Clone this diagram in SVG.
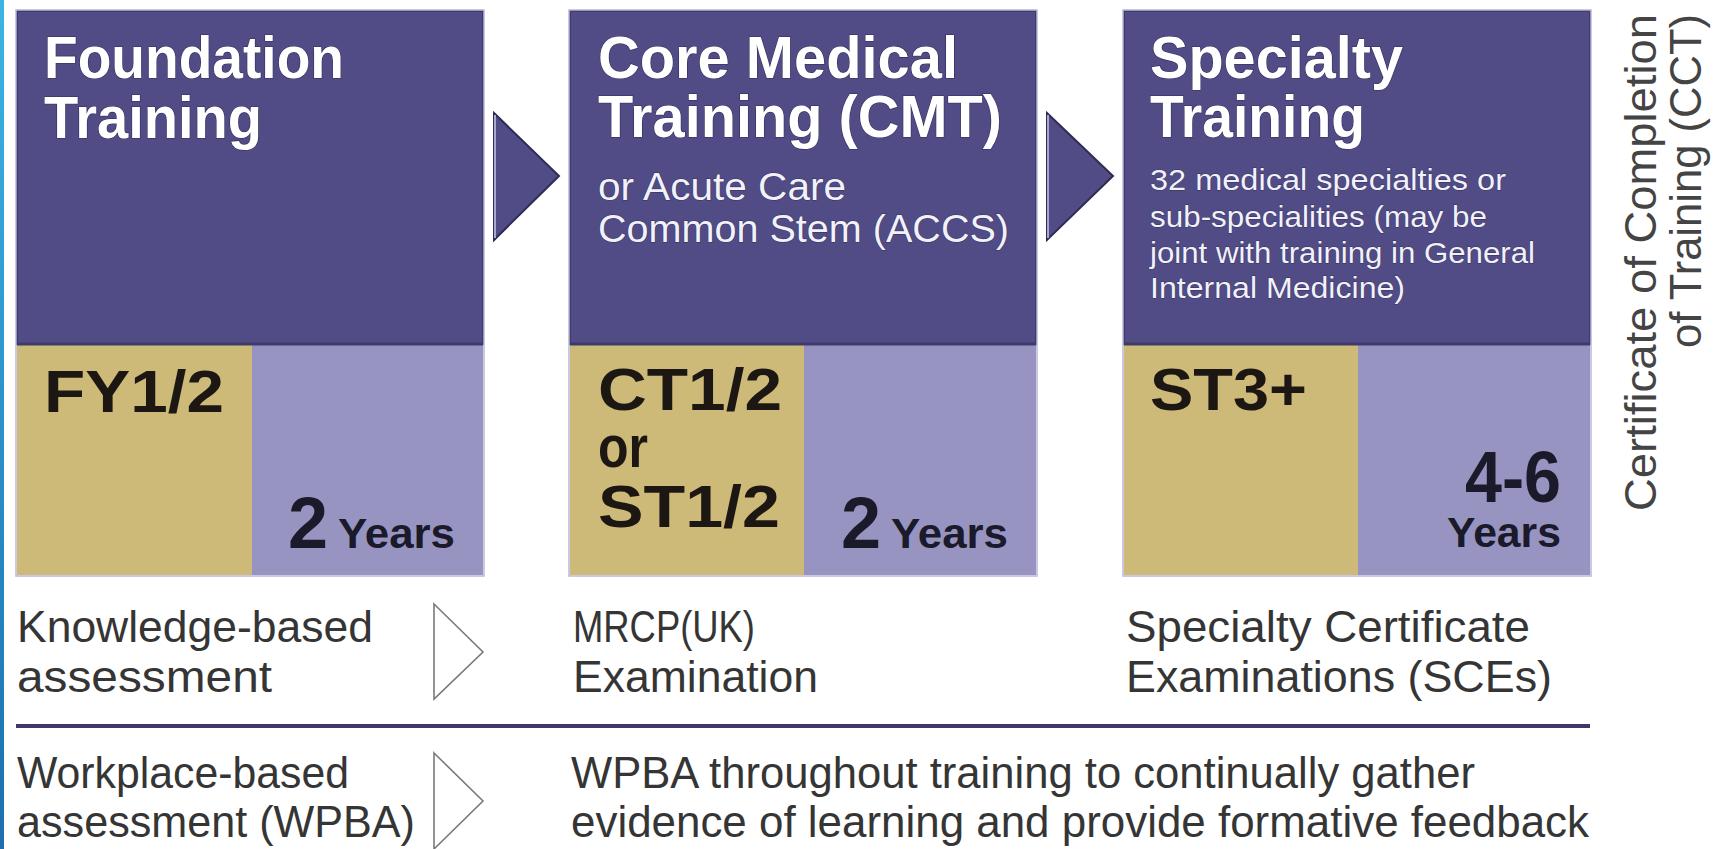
<svg xmlns="http://www.w3.org/2000/svg" width="1722" height="849" viewBox="0 0 1722 849">
  <defs>
    <linearGradient id="edge" x1="0" y1="0" x2="0" y2="1">
      <stop offset="0" stop-color="#3cb4e4"/>
      <stop offset="1" stop-color="#1c6fae"/>
    </linearGradient>
    <style>
      .top { fill: #514c86; stroke: #3e3a6c; stroke-width: 2; }
      .tan { fill: #cdb978; }
      .lav { fill: #9794c1; }
      .frame { fill: none; stroke: #b9b6d9; stroke-width: 1.5; }
      .split { stroke: #3e3a6c; stroke-width: 3; }
      .title { font-family: "Liberation Sans", Arial, sans-serif; font-weight: bold; font-size: 60px; fill: #ffffff; stroke: #2f2c58; stroke-width: 1.2; paint-order: stroke; }
      .sub { font-family: "Liberation Sans", Arial, sans-serif; font-size: 38px; fill: #f2f1fa; stroke: #34315e; stroke-width: 1; paint-order: stroke; }
      .small { font-family: "Liberation Sans", Arial, sans-serif; font-size: 29px; fill: #f2f1fa; stroke: #34315e; stroke-width: 0.8; paint-order: stroke; }
      .code { font-family: "Liberation Sans", Arial, sans-serif; font-weight: bold; font-size: 60px; fill: #1c1712; }
      .num { font-family: "Liberation Sans", Arial, sans-serif; font-weight: bold; font-size: 72px; fill: #1a1a2a; }
      .yrs { font-family: "Liberation Sans", Arial, sans-serif; font-weight: bold; font-size: 43px; fill: #1a1a2a; }
      .body { font-family: "Liberation Sans", Arial, sans-serif; font-size: 44px; fill: #353535; }
      .cct { font-family: "Liberation Sans", Arial, sans-serif; font-size: 44px; fill: #444444; }
      .arrow { fill: #514c86; stroke: #2e2b55; stroke-width: 2; stroke-linejoin: miter; }
      .chev { fill: none; stroke: #7a7a7a; stroke-width: 1.6; }
      .rule { stroke: #3d3a6a; stroke-width: 4; }
    </style>
  </defs>

  <rect x="0" y="0" width="1722" height="849" fill="#ffffff"/>
  <rect x="0" y="0" width="4" height="849" fill="url(#edge)"/>

  <g id="foundation">
    <rect class="top" x="17" y="11" width="466" height="333"/>
    <rect class="tan" x="17" y="344" width="235" height="231"/>
    <rect class="lav" x="252" y="344" width="231" height="231"/>
    <line class="split" x1="17" y1="344" x2="483" y2="344"/>
    <rect class="frame" x="16" y="10" width="468" height="566"/>
    <text class="title" x="44" y="78" textLength="300" lengthAdjust="spacingAndGlyphs">Foundation</text>
    <text class="title" x="44" y="138" textLength="218" lengthAdjust="spacingAndGlyphs">Training</text>
    <text class="code" x="44" y="412" textLength="180" lengthAdjust="spacingAndGlyphs">FY1/2</text>
    <text class="num" x="288" y="548">2</text>
    <text class="yrs" x="338" y="548" textLength="117" lengthAdjust="spacingAndGlyphs">Years</text>
  </g>

  <g id="core-medical">
    <rect class="top" x="570" y="11" width="466" height="333"/>
    <rect class="tan" x="570" y="344" width="234" height="231"/>
    <rect class="lav" x="804" y="344" width="232" height="231"/>
    <line class="split" x1="570" y1="344" x2="1036" y2="344"/>
    <rect class="frame" x="569" y="10" width="468" height="566"/>
    <text class="title" x="598" y="78" textLength="360" lengthAdjust="spacingAndGlyphs">Core Medical</text>
    <text class="title" x="598" y="137" textLength="404" lengthAdjust="spacingAndGlyphs">Training (CMT)</text>
    <text class="sub" x="598" y="200" textLength="248" lengthAdjust="spacingAndGlyphs">or Acute Care</text>
    <text class="sub" x="598" y="242" textLength="411" lengthAdjust="spacingAndGlyphs">Common Stem (ACCS)</text>
    <text class="code" x="598" y="410" textLength="184" lengthAdjust="spacingAndGlyphs">CT1/2</text>
    <text class="code" x="598" y="467" textLength="50" lengthAdjust="spacingAndGlyphs">or</text>
    <text class="code" x="598" y="527" textLength="182" lengthAdjust="spacingAndGlyphs">ST1/2</text>
    <text class="num" x="841" y="548">2</text>
    <text class="yrs" x="891" y="548" textLength="117" lengthAdjust="spacingAndGlyphs">Years</text>
  </g>

  <g id="specialty">
    <rect class="top" x="1124" y="11" width="466" height="333"/>
    <rect class="tan" x="1124" y="344" width="234" height="231"/>
    <rect class="lav" x="1358" y="344" width="232" height="231"/>
    <line class="split" x1="1124" y1="344" x2="1590" y2="344"/>
    <rect class="frame" x="1123" y="10" width="468" height="566"/>
    <text class="title" x="1150" y="78" textLength="253" lengthAdjust="spacingAndGlyphs">Specialty</text>
    <text class="title" x="1150" y="137" textLength="215" lengthAdjust="spacingAndGlyphs">Training</text>
    <text class="small" x="1150" y="190" textLength="356" lengthAdjust="spacingAndGlyphs">32 medical specialties or</text>
    <text class="small" x="1150" y="227" textLength="337" lengthAdjust="spacingAndGlyphs">sub-specialities (may be</text>
    <text class="small" x="1150" y="263" textLength="385" lengthAdjust="spacingAndGlyphs">joint with training in General</text>
    <text class="small" x="1150" y="298" textLength="255" lengthAdjust="spacingAndGlyphs">Internal Medicine)</text>
    <text class="code" x="1150" y="410" textLength="157" lengthAdjust="spacingAndGlyphs">ST3+</text>
    <text class="num" x="1561" y="502" text-anchor="end" textLength="96" lengthAdjust="spacingAndGlyphs">4-6</text>
    <text class="yrs" x="1561" y="547" text-anchor="end" textLength="114" lengthAdjust="spacingAndGlyphs">Years</text>
  </g>

  <g id="cct">
    <text class="cct" transform="translate(1656,14) rotate(-90)" text-anchor="end" textLength="497" lengthAdjust="spacingAndGlyphs">Certificate of Completion</text>
    <text class="cct" transform="translate(1701,14) rotate(-90)" text-anchor="end" textLength="334" lengthAdjust="spacingAndGlyphs">of Training (CCT)</text>
  </g>

  <g id="assessment-rows">
    <text class="body" x="17" y="642" textLength="356" lengthAdjust="spacingAndGlyphs">Knowledge-based</text>
    <text class="body" x="17" y="692" textLength="255" lengthAdjust="spacingAndGlyphs">assessment</text>
    <text class="body" x="573" y="642" textLength="182" lengthAdjust="spacingAndGlyphs">MRCP(UK)</text>
    <text class="body" x="573" y="692" textLength="245" lengthAdjust="spacingAndGlyphs">Examination</text>
    <text class="body" x="1126" y="642" textLength="404" lengthAdjust="spacingAndGlyphs">Specialty Certificate</text>
    <text class="body" x="1126" y="692" textLength="426" lengthAdjust="spacingAndGlyphs">Examinations (SCEs)</text>
    <text class="body" x="17" y="788" textLength="332" lengthAdjust="spacingAndGlyphs">Workplace-based</text>
    <text class="body" x="17" y="837" textLength="398" lengthAdjust="spacingAndGlyphs">assessment (WPBA)</text>
    <text class="body" x="571" y="788" textLength="904" lengthAdjust="spacingAndGlyphs">WPBA throughout training to continually gather</text>
    <text class="body" x="571" y="837" textLength="1018" lengthAdjust="spacingAndGlyphs">evidence of learning and provide formative feedback</text>
  </g>

  <g id="connectors">
    <polygon class="arrow" points="494,113 559,176 494,240"/>
    <line x1="495" y1="115" x2="495" y2="238" stroke="#a9a6cf" stroke-width="2"/>
    <polygon class="arrow" points="1047,113 1113,176 1047,240"/>
    <line x1="1048" y1="115" x2="1048" y2="238" stroke="#a9a6cf" stroke-width="2"/>
    <polygon class="chev" points="434,604 483,652 434,699"/>
    <polygon class="chev" points="434,753 483,801 434,849"/>
    <line class="rule" x1="16" y1="726" x2="1590" y2="726"/>
  </g>
</svg>
